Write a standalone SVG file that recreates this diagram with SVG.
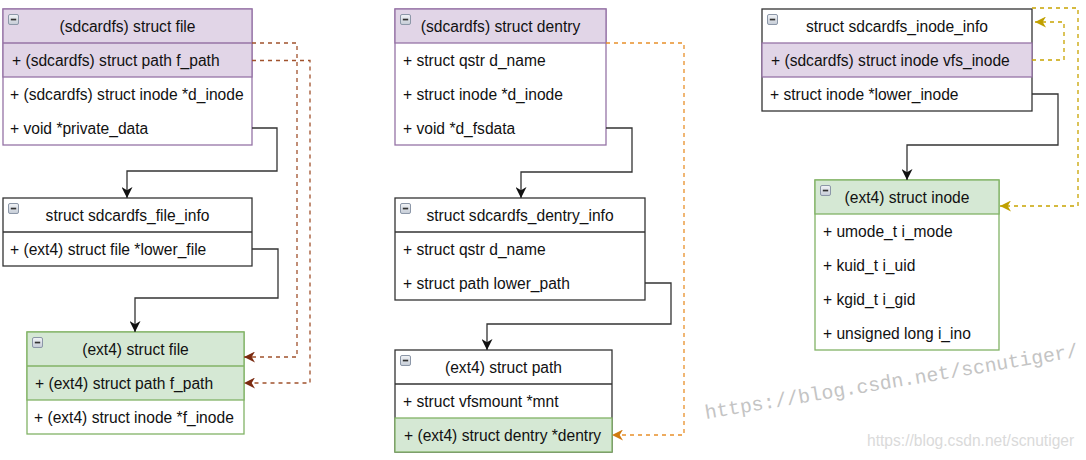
<svg xmlns="http://www.w3.org/2000/svg" width="1086" height="460" viewBox="0 0 1086 460">
<style>
.t{font-family:"Liberation Sans",Arial,sans-serif;font-size:15.6px;fill:#111}
.h{text-anchor:middle}
.pu{fill:#e1d5e7;stroke:#9673a6;stroke-width:1.3}
.gr{fill:#d5e8d4;stroke:#82b366;stroke-width:1.3}
.wh{fill:#fff;stroke:#333;stroke-width:1.3}
.wp{fill:#fff;stroke:#9673a6;stroke-width:1.3}
.wg{fill:#fff;stroke:#82b366;stroke-width:1.3}
.sep{fill:none;stroke-width:1.3}
.cs{fill:none;stroke:#333;stroke-width:1.3}
.cb{fill:none;stroke:#a0522d;stroke-width:1.3;stroke-dasharray:4 4}
.co{fill:none;stroke:#e8902a;stroke-width:1.3;stroke-dasharray:4 4}
.cy{fill:none;stroke:#c8a400;stroke-width:1.3;stroke-dasharray:4 4}
</style>
<defs>
<linearGradient id="ig" x1="0" y1="0" x2="0" y2="1"><stop offset="0" stop-color="#f2f4f7"/><stop offset="1" stop-color="#c5ccd6"/></linearGradient>
<g id="icon"><rect x="0.5" y="0.5" width="10" height="10" rx="1.5" fill="url(#ig)" stroke="#8c97a8" stroke-width="1"/><rect x="2.8" y="4.7" width="5.4" height="1.7" fill="#333"/></g>
<marker id="ak" viewBox="0 0 11 11" refX="11" refY="5.5" markerWidth="11" markerHeight="11" markerUnits="userSpaceOnUse" orient="auto"><path d="M0,0 L11,5.5 L0,11 L3.3,5.5 Z" fill="#111"/></marker>
<marker id="ab" viewBox="0 0 11 11" refX="11" refY="5.5" markerWidth="11" markerHeight="11" markerUnits="userSpaceOnUse" orient="auto"><path d="M0,0 L11,5.5 L0,11 L3.3,5.5 Z" fill="#7a2a10"/></marker>
<marker id="ao" viewBox="0 0 11 11" refX="11" refY="5.5" markerWidth="11" markerHeight="11" markerUnits="userSpaceOnUse" orient="auto"><path d="M0,0 L11,5.5 L0,11 L3.3,5.5 Z" fill="#d07a10"/></marker>
<marker id="ay" viewBox="0 0 11 11" refX="11" refY="5.5" markerWidth="11" markerHeight="11" markerUnits="userSpaceOnUse" orient="auto"><path d="M0,0 L11,5.5 L0,11 L3.3,5.5 Z" fill="#c0a000"/></marker>
</defs>
<rect width="1086" height="460" fill="#fff"/>

<g id="sdcardfs_file">
<rect class="wp" x="3" y="9" width="249" height="136"/>
<rect class="pu" x="3" y="9" width="249" height="68"/>
<line class="sep" stroke="#9673a6" x1="3" y1="43" x2="252" y2="43"/>
<use href="#icon" x="8" y="14"/>
<text class="t h" x="127.5" y="31.5">(sdcardfs) struct file</text>
<text class="t" x="12" y="66">+ (sdcardfs) struct path f_path</text>
<text class="t" x="10" y="100">+ (sdcardfs) struct inode *d_inode</text>
<text class="t" x="10" y="134">+ void *private_data</text>
</g>

<g id="sdcardfs_file_info">
<rect class="wh" x="3" y="198" width="249" height="68"/>
<line class="sep" stroke="#333" x1="3" y1="232" x2="252" y2="232"/>
<use href="#icon" x="8" y="203"/>
<text class="t h" x="127.5" y="220.5">struct sdcardfs_file_info</text>
<text class="t" x="10" y="255">+ (ext4) struct file *lower_file</text>
</g>

<g id="ext4_file">
<rect class="wg" x="27" y="332" width="217" height="102"/>
<rect class="gr" x="27" y="332" width="217" height="68"/>
<line class="sep" stroke="#82b366" x1="27" y1="366" x2="244" y2="366"/>
<use href="#icon" x="32" y="337"/>
<text class="t h" x="135.5" y="354.5">(ext4) struct file</text>
<text class="t" x="35" y="389">+ (ext4) struct path f_path</text>
<text class="t" x="34" y="423">+ (ext4) struct inode *f_inode</text>
</g>

<g id="sdcardfs_dentry">
<rect class="wp" x="395" y="9" width="211" height="136"/>
<rect class="pu" x="395" y="9" width="211" height="34"/>
<use href="#icon" x="400" y="14"/>
<text class="t h" x="500.5" y="31.5">(sdcardfs) struct dentry</text>
<text class="t" x="403" y="66">+ struct qstr d_name</text>
<text class="t" x="403" y="100">+ struct inode *d_inode</text>
<text class="t" x="403" y="134">+ void *d_fsdata</text>
</g>

<g id="sdcardfs_dentry_info">
<rect class="wh" x="395" y="198" width="250" height="102"/>
<line class="sep" stroke="#333" x1="395" y1="232" x2="645" y2="232"/>
<use href="#icon" x="400" y="203"/>
<text class="t h" x="520" y="220.5">struct sdcardfs_dentry_info</text>
<text class="t" x="403" y="255">+ struct qstr d_name</text>
<text class="t" x="403" y="289">+ struct path lower_path</text>
</g>

<g id="ext4_path">
<rect class="wh" x="395" y="350" width="217" height="102"/>
<line class="sep" stroke="#333" x1="395" y1="384" x2="612" y2="384"/>
<rect class="gr" x="395" y="418" width="217" height="34"/>
<use href="#icon" x="400" y="355"/>
<text class="t h" x="503.5" y="372.5">(ext4) struct path</text>
<text class="t" x="403" y="407">+ struct vfsmount *mnt</text>
<text class="t" x="404" y="441">+ (ext4) struct dentry *dentry</text>
</g>

<g id="sdcardfs_inode_info">
<rect class="wh" x="762" y="9" width="270" height="102"/>
<rect class="pu" x="762" y="43" width="270" height="34"/>
<use href="#icon" x="767" y="14"/>
<text class="t h" x="897" y="31.5">struct sdcardfs_inode_info</text>
<text class="t" x="771" y="66">+ (sdcardfs) struct inode vfs_inode</text>
<text class="t" x="770" y="100">+ struct inode *lower_inode</text>
</g>

<g id="ext4_inode">
<rect class="wg" x="815" y="180" width="184" height="170"/>
<rect class="gr" x="815" y="180" width="184" height="34"/>
<use href="#icon" x="820" y="185"/>
<text class="t h" x="907" y="202.5">(ext4) struct inode</text>
<text class="t" x="823" y="237">+ umode_t i_mode</text>
<text class="t" x="823" y="271">+ kuid_t i_uid</text>
<text class="t" x="823" y="305">+ kgid_t i_gid</text>
<text class="t" x="823" y="339">+ unsigned long i_ino</text>
</g>

<g id="connectors">
<path class="cs" d="M252,128 H277 V171 H127 V198" marker-end="url(#ak)"/>
<path class="cs" d="M252,249 H278 V298 H135 V332" marker-end="url(#ak)"/>
<path class="cb" d="M252,43 H297 V357 H244" marker-end="url(#ab)"/>
<path class="cb" d="M252,60.5 H310 V383 H244" marker-end="url(#ab)"/>
<path class="cs" d="M606,128 H632 V172 H521 V198" marker-end="url(#ak)"/>
<path class="cs" d="M645,283 H671 V324 H487 V350" marker-end="url(#ak)"/>
<path class="co" d="M606,43 H684 V435 H612" marker-end="url(#ao)"/>
<path class="cs" d="M1032,94 H1058 V145 H907 V180" marker-end="url(#ak)"/>
<path class="cy" d="M1032,60 H1064 V22 H1035" marker-end="url(#ay)"/>
<path class="cy" d="M1032,8 H1078 V206 H1000" marker-end="url(#ay)"/>
</g>

<text x="706" y="419" transform="rotate(-9.5 706 419)" font-family="'Liberation Mono','DejaVu Sans Mono',monospace" font-size="19.7" fill="#c4c4c4">https://blog.csdn.net/scnutiger/</text>
<text x="867" y="446" font-family="'Liberation Sans',Arial,sans-serif" font-size="15.6" fill="#dadada">https://blog.csdn.net/scnutiger</text>
</svg>
